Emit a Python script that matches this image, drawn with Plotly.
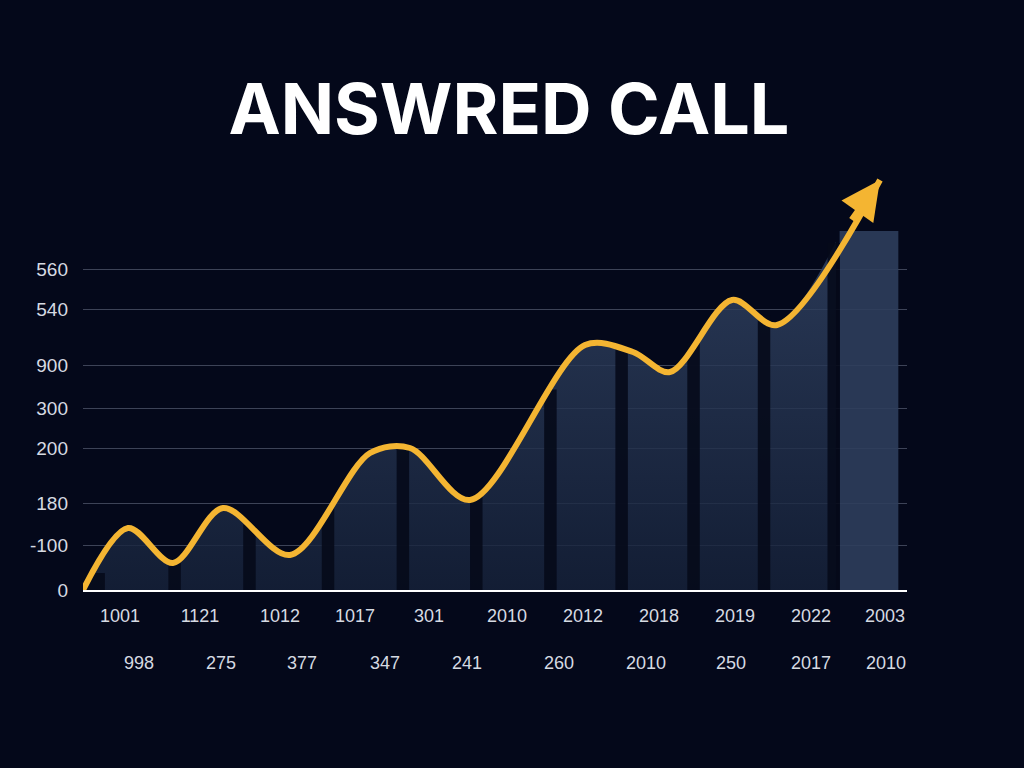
import numpy as np
import plotly.graph_objects as go

# ---------------- data ----------------
categories = ['1001', '1121', '1012', '1017', '301', '2010',
              '2012', '2018', '2019', '2022', '2003']
secondary_labels = ['998', '275', '377', '347', '241', '260',
                    '2010', '250', '2017', '2010']
trend_x = [-0.708, -0.095, 0.518, 1.199, 2.112, 3.202, 3.747,
           4.564, 6.131, 6.785, 7.289, 8.134, 8.747, 10.150]
trend_y = [0, 62, 27, 82, 35, 137, 142, 90, 245, 238, 218, 290, 265, 410]
final_bar_value = 359
y_tick_vals = [0, 45, 87, 142, 182, 225, 281, 321]
y_tick_text = ['0', '-100', '180', '200', '300', '900', '540', '560']

# ---------------- layout helpers ----------------
row1_pos = [-0.204, 0.886, 1.975, 2.997, 4.005, 5.068, 6.104, 7.139, 8.174, 9.210, 10.218]
row2_pos = [0.054, 1.172, 2.275, 3.406, 4.523, 5.777, 6.962, 8.120, 9.210, 10.232]
gap_x = [-0.56, 0.54, 1.56, 2.63, 3.65, 4.65, 5.66, 6.63, 7.61, 8.57, 9.52]
gap_w = [0.30] + [0.17] * 10

BG = '#04081a'
LINE = '#f4b532'
TXT = '#d6dae2'

gap_h = [float(v) for v in np.interp(gap_x, trend_x, trend_y) + 2]

clip = 9.55
fx = [x for x in trend_x if x < clip] + [clip]
fy = [y for x, y in zip(trend_x, trend_y) if x < clip] + [float(np.interp(clip, trend_x, trend_y))]

fig = go.Figure()

# filled area under the trend (bar bodies) - base layer
fig.add_trace(go.Scatter(
    x=fx, y=fy, mode='lines', line=dict(width=0, shape='spline', smoothing=0.9),
    fill='tozeroy',
    fillgradient=dict(type='vertical',
                      colorscale=[[0, 'rgba(22,34,58,0.82)'], [1, 'rgba(50,68,100,0.82)']],
                      start=0, stop=360),
    hoverinfo='skip', showlegend=False, xaxis='x', yaxis='y'))

# final tall bar (overlay layer)
fig.add_trace(go.Bar(
    x=[10], y=[final_bar_value], width=0.8,
    marker=dict(color='rgba(46,62,92,0.9)', line=dict(width=0)),
    hoverinfo='skip', showlegend=False, xaxis='x', yaxis='y2'))

# dark gaps separating bars
fig.add_trace(go.Bar(
    x=gap_x, y=gap_h, width=gap_w,
    marker=dict(color='rgba(5,10,26,0.9)', line=dict(width=0)),
    hoverinfo='skip', showlegend=False, xaxis='x', yaxis='y2'))

# trend line
fig.add_trace(go.Scatter(
    x=trend_x, y=trend_y, mode='lines',
    line=dict(color=LINE, width=6, shape='spline', smoothing=0.9),
    hoverinfo='skip', showlegend=False, xaxis='x', yaxis='y2'))

# arrow head
fig.add_annotation(
    x=trend_x[-1], y=trend_y[-1], ax=9.75, ay=float(np.interp(9.75, trend_x, trend_y)),
    xref='x', yref='y2', axref='x', ayref='y2', text='',
    showarrow=True, arrowhead=2, arrowsize=1.3, arrowwidth=6, arrowcolor=LINE)

# second row of labels
for p, t in zip(row2_pos, secondary_labels):
    fig.add_annotation(x=p, y=-0.174, xref='x', yref='paper', text=t, showarrow=False,
                       font=dict(family='Liberation Sans', size=18, color=TXT),
                       xanchor='center', yanchor='middle')

fig.update_layout(
    width=1024, height=768,
    paper_bgcolor=BG, plot_bgcolor=BG,
    margin=dict(l=83, r=117, t=170, b=178),
    barmode='overlay',
    title=dict(text='<b>ANSWRED CALL</b>', x=0.497, xanchor='center',
               y=0.858, yanchor='middle', yref='container',
               font=dict(family='Inter', size=70, color='white')),
    xaxis=dict(range=[-0.708, 10.518], tickvals=row1_pos, ticktext=categories,
               showgrid=False, zeroline=False, showline=True, linecolor='white',
               linewidth=2, ticks='', ticklabelstandoff=8, layer='above traces',
               tickfont=dict(family='Liberation Sans', size=18, color=TXT)),
    yaxis=dict(range=[0, 420], tickvals=y_tick_vals, ticktext=y_tick_text,
               showgrid=True, gridcolor='rgba(140,150,172,0.42)', gridwidth=1.2,
               zeroline=False, ticks='', ticklabelstandoff=14,
               tickfont=dict(family='Liberation Sans', size=19, color=TXT)),
    yaxis2=dict(range=[0, 420], overlaying='y', showgrid=False, zeroline=False,
                showticklabels=False, ticks=''),
)

fig.write_html('out.html', config={'displayModeBar': False},
               post_script="document.body.style.margin='0';")
